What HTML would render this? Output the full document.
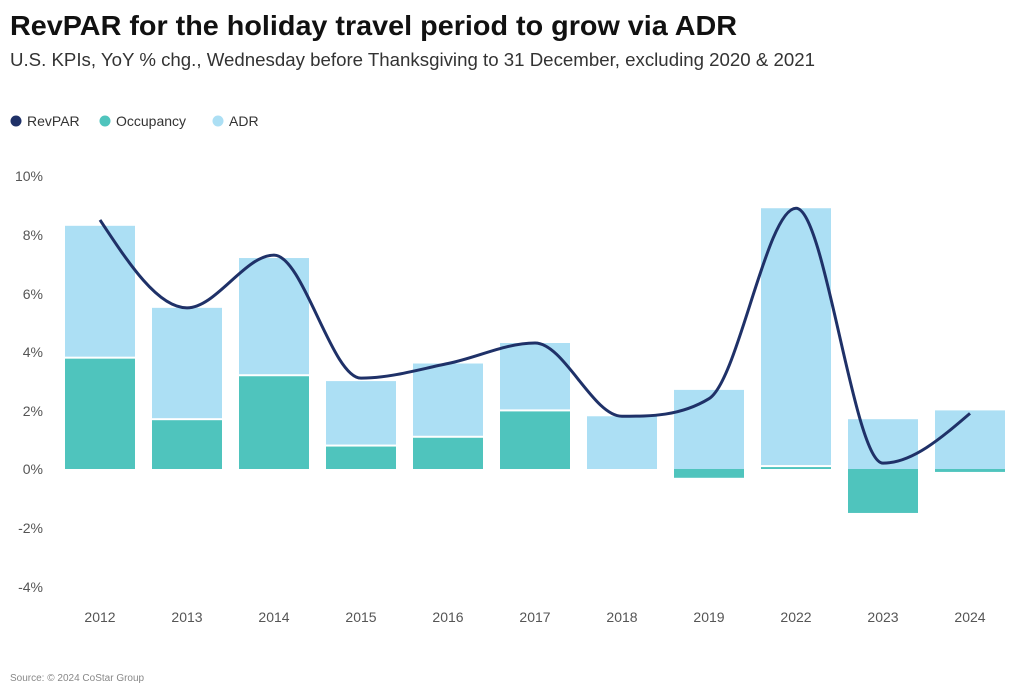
<!DOCTYPE html>
<html><head><meta charset="utf-8"><style>
body{margin:0;background:#fff;width:1024px;height:693px;overflow:hidden;font-family:"Liberation Sans",sans-serif}
</style></head><body>
<svg width="1024" height="693" xmlns="http://www.w3.org/2000/svg" font-family="Liberation Sans, sans-serif">
<text x="10" y="35" font-size="28" font-weight="bold" fill="#111" textLength="727" lengthAdjust="spacingAndGlyphs">RevPAR for the holiday travel period to grow via ADR</text>
<text x="10" y="66" font-size="18" fill="#333" textLength="805" lengthAdjust="spacingAndGlyphs">U.S. KPIs, YoY % chg., Wednesday before Thanksgiving to 31 December, excluding 2020 &amp; 2021</text>
<circle cx="16" cy="121" r="5.5" fill="#1f3168"/><text x="27" y="126" font-size="14" fill="#333">RevPAR</text>
<circle cx="105" cy="121" r="5.5" fill="#4fc4bd"/><text x="116" y="126" font-size="14" fill="#333">Occupancy</text>
<circle cx="218" cy="121" r="5.5" fill="#acdff4"/><text x="229" y="126" font-size="14" fill="#333">ADR</text>
<g font-size="14" fill="#555" text-anchor="end">
<text x="43" y="181">10%</text><text x="43" y="240">8%</text><text x="43" y="299">6%</text><text x="43" y="357">4%</text><text x="43" y="416">2%</text><text x="43" y="474">0%</text><text x="43" y="533">-2%</text><text x="43" y="592">-4%</text>
</g>
<g id="bars"></g>
<path id="line" fill="none" stroke="#1f3168" stroke-width="3"/>
<g font-size="14" fill="#555" text-anchor="middle" id="xl"></g>
<text x="10" y="681" font-size="10" fill="#888">Source: © 2024 CoStar Group</text>
</svg>
<script>
var yrs=["2012","2013","2014","2015","2016","2017","2018","2019","2022","2023","2024"];
var occ=[3.8,1.7,3.2,0.8,1.1,2.0,0,-0.3,0.1,-1.5,-0.1];
var adr=[4.5,3.8,4.0,2.2,2.5,2.3,1.8,2.7,8.8,1.7,2.0];
var rev=[8.5,5.5,7.3,3.1,3.6,4.3,1.8,2.4,8.9,0.2,1.9];
function Y(v){return 469-v*29.3}
var ns="http://www.w3.org/2000/svg",g=document.getElementById("bars"),xl=document.getElementById("xl");
function rect(x,y1,y2,c){var r=document.createElementNS(ns,"rect");r.setAttribute("x",x);r.setAttribute("y",Math.min(y1,y2));r.setAttribute("width",70);r.setAttribute("height",Math.abs(y2-y1));r.setAttribute("fill",c);g.appendChild(r);}
var xs=[];
for(var i=0;i<11;i++){var cx=100+i*87;xs.push(cx);var x=cx-35;
 var base=occ[i]>0?occ[i]:0;
 rect(x,Y(base),Y(base+adr[i]),"#acdff4");
 if(occ[i]!=0)rect(x,Y(0),Y(occ[i]),"#4fc4bd");
 if(occ[i]>0){var l=document.createElementNS(ns,"rect");l.setAttribute("x",x);l.setAttribute("y",Y(occ[i])-1);l.setAttribute("width",70);l.setAttribute("height",2);l.setAttribute("fill","#fff");g.appendChild(l);}
 var t=document.createElementNS(ns,"text");t.setAttribute("x",cx);t.setAttribute("y",622);t.textContent=yrs[i];xl.appendChild(t);}
var ys=rev.map(Y),n=11,d=[],m=[];
for(i=0;i<n-1;i++)d.push((ys[i+1]-ys[i])/87);
m[0]=d[0];m[n-1]=d[n-2];
for(i=1;i<n-1;i++){m[i]=(d[i-1]*d[i]<=0)?0:(d[i-1]+d[i])/2;
 var a=Math.min(Math.abs(m[i]),3*Math.abs(d[i-1]),3*Math.abs(d[i]));m[i]=Math.sign(m[i])*a;}
m[0]=(3*d[0]-m[1])/2;m[n-1]=(3*d[n-2]-m[n-2])/2;
var p="M"+xs[0]+","+ys[0];
for(i=0;i<n-1;i++){var h=29;p+=" C"+(xs[i]+h)+","+(ys[i]+m[i]*h)+" "+(xs[i+1]-h)+","+(ys[i+1]-m[i+1]*h)+" "+xs[i+1]+","+ys[i+1];}
document.getElementById("line").setAttribute("d",p);
</script>
</body></html>
